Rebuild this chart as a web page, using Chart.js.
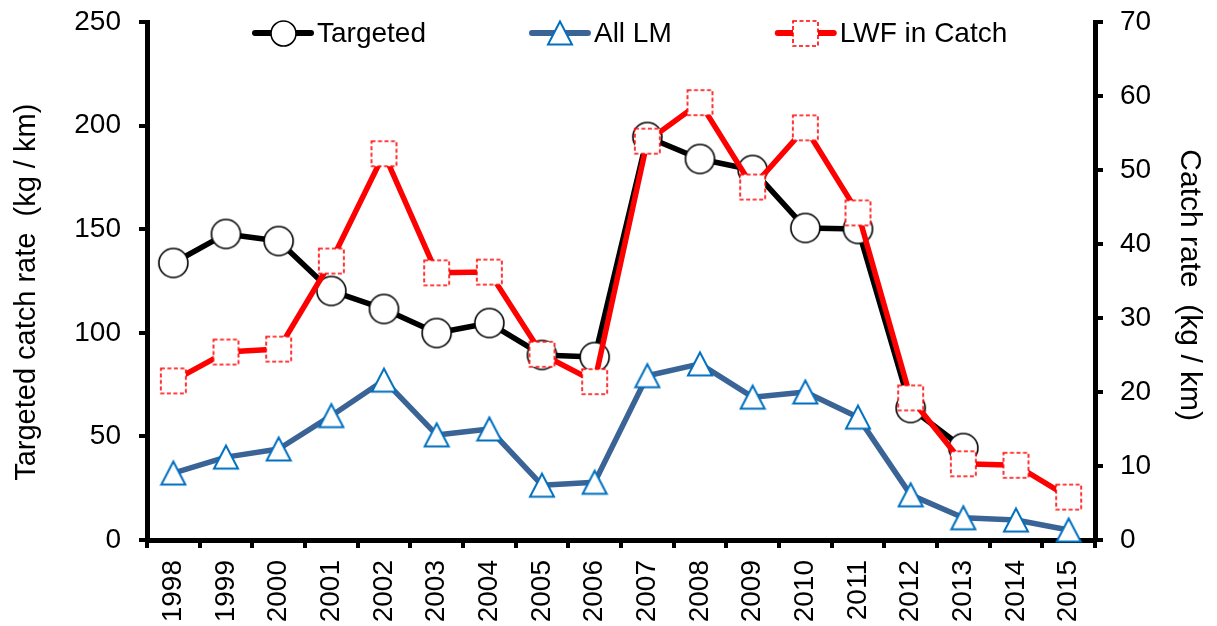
<!DOCTYPE html>
<html>
<head>
<meta charset="utf-8">
<script src="https://cdn.jsdelivr.net/npm/chart.js@4/dist/chart.umd.min.js"></script>
<style>
  html, body { margin: 0; padding: 0; background: #fff; }
</style>
</head>
<body>
<canvas id="grafico" width="1217" height="626"></canvas>
<script>
const years = ['1998', '1999', '2000', '2001', '2002', '2003', '2004', '2005', '2006',
               '2007', '2008', '2009', '2010', '2011', '2012', '2013', '2014', '2015'];

// left axis (kg / km)
const targeted = [133.7, 147.7, 144.3, 120.2, 111.5, 99.9, 104.7, 89.3, 88.3,
                  194.5, 183.9, 178.6, 150.6, 150.1, 63.7, 44.4, null, null];

// right axis (kg / km)
const allLM = [9.05, 11.2, 12.3, 16.8, 21.6, 14.2, 15.0, 7.4, 7.8,
               22.2, 23.8, 19.3, 20.0, 16.6, 6.1, 3.0, 2.7, 1.35];
const lwfInCatch = [21.5, 25.4, 25.8, 37.7, 52.2, 36.1, 36.2, 25.1, 21.4,
                    53.9, 59.1, 47.7, 55.7, 44.2, 19.2, 10.3, 10.1, 5.8];

const leftTicks = [0, 50, 100, 150, 200, 250];
const rightTicks = [0, 10, 20, 30, 40, 50, 60, 70];

const FONT = 'Liberation Sans';
Chart.defaults.font.family = FONT;
Chart.defaults.color = '#000';

// marcadores dibujados en canvas pequeños
function marcadorCirculo(r) {
    const s = Math.ceil(r * 2 + 4);
    const c = document.createElement('canvas');
    c.width = s; c.height = s;
    const g = c.getContext('2d');
    g.beginPath();
    g.arc(s / 2, s / 2, r, 0, Math.PI * 2);
    g.fillStyle = '#fff';
    g.fill();
    g.lineWidth = 1.6;
    g.strokeStyle = '#000';
    g.stroke();
    return c;
}

function marcadorTriangulo(w, h) {
    const s = Math.ceil(Math.max(w, h) + 4);
    const c = document.createElement('canvas');
    c.width = s; c.height = s;
    const g = c.getContext('2d');
    const cx = s / 2, cy = s / 2;
    g.beginPath();
    g.moveTo(cx, cy - h / 2);
    g.lineTo(cx + w / 2, cy + h / 2);
    g.lineTo(cx - w / 2, cy + h / 2);
    g.closePath();
    g.fillStyle = '#fff';
    g.fill();
    g.lineWidth = 2;
    g.lineJoin = 'miter';
    g.strokeStyle = '#0070C0';
    g.stroke();
    return c;
}

function marcadorCuadrado(lado) {
    const s = Math.ceil(lado + 4);
    const c = document.createElement('canvas');
    c.width = s; c.height = s;
    const g = c.getContext('2d');
    const o = (s - lado) / 2;
    g.fillStyle = '#fff';
    g.fillRect(o, o, lado, lado);
    g.setLineDash([4, 2.5]);
    g.lineWidth = 1.6;
    g.strokeStyle = '#FF0000';
    g.strokeRect(o, o, lado, lado);
    return c;
}

const mCirculo = marcadorCirculo(14.5);
const mTriangulo = marcadorTriangulo(24, 23);
const mCuadrado = marcadorCuadrado(25);
const mCirculoLeyenda = marcadorCirculo(12.5);

// leyenda: línea + marcador, dentro del área del gráfico
const leyendaLinea = {
    id: 'leyendaLinea',
    afterDraw(chart) {
        const ctx = chart.ctx;
        const area = chart.chartArea;
        ctx.save();
        ctx.font = '28px "' + FONT + '"';
        ctx.textBaseline = 'middle';
        ctx.textAlign = 'left';
        const y = area.top + 11;
        let x = area.left + 108;
        chart.data.datasets.forEach(ds => {
            ctx.beginPath();
            ctx.moveTo(x, y);
            ctx.lineTo(x + 56, y);
            ctx.lineWidth = 6;
            ctx.lineCap = 'round';
            ctx.strokeStyle = ds.borderColor;
            ctx.stroke();
            const m = ds.legendMarker;
            ctx.drawImage(m, Math.round(x + 28 - m.width / 2), Math.round(y - m.height / 2));
            ctx.fillStyle = '#000';
            ctx.fillText(ds.label, x + 62, y + 1);
            x += 62 + ctx.measureText(ds.label).width + 106;
        });
        ctx.restore();
    }
};

const ejeGrid = {
    drawOnChartArea: false,
    drawTicks: true,
    tickLength: 8,
    lineWidth: 4,
    color: '#000'
};
const ejeBorde = { display: true, width: 5, color: '#000' };
const fuenteTicks = { size: 28 };
const fuenteTitulo = { size: 29 };

// los ejes verticales no deben empujar el área del gráfico hacia abajo
function sinRelleno(s) {
    s.paddingTop = 0;
    s.paddingBottom = 0;
}

new Chart(document.getElementById('grafico'), {
    type: 'line',
    data: {
        labels: years,
        datasets: [
            {
                label: 'Targeted',
                data: targeted,
                yAxisID: 'y',
                borderColor: '#000000',
                borderWidth: 5.5,
                pointStyle: mCirculo,
                legendMarker: mCirculoLeyenda,
                pointRadius: 14,
                order: 1
            },
            {
                label: 'All LM',
                data: allLM,
                yAxisID: 'y1',
                borderColor: '#3A6496',
                borderWidth: 5.5,
                pointStyle: mTriangulo,
                legendMarker: mTriangulo,
                pointRadius: 12,
                order: 2
            },
            {
                label: 'LWF in Catch',
                data: lwfInCatch,
                yAxisID: 'y1',
                borderColor: '#FF0000',
                borderWidth: 5.5,
                pointStyle: mCuadrado,
                legendMarker: mCuadrado,
                pointRadius: 13,
                order: 0
            }
        ]
    },
    options: {
        responsive: false,
        animation: false,
        devicePixelRatio: 1,
        layout: { padding: { top: 22, left: 0, right: 0, bottom: 0 } },
        elements: {
            line: { tension: 0, borderJoinStyle: 'round', borderCapStyle: 'round' }
        },
        datasets: { line: { clip: false, spanGaps: false } },
        plugins: {
            legend: { display: false },
            tooltip: { enabled: false }
        },
        scales: {
            x: {
                type: 'category',
                offset: true,
                grid: Object.assign({ offset: true }, ejeGrid),
                border: ejeBorde,
                ticks: {
                    autoSkip: false,
                    minRotation: 90,
                    maxRotation: 90,
                    padding: 12,
                    font: fuenteTicks,
                    color: '#000'
                },
                afterFit: s => { s.height = 86; s.paddingLeft = 0; s.paddingRight = 0; }
            },
            y: {
                position: 'left',
                min: 0,
                max: 250,
                afterBuildTicks: s => { s.ticks = leftTicks.map(v => ({ value: v })); },
                grid: ejeGrid,
                border: ejeBorde,
                ticks: { padding: 18, font: fuenteTicks, color: '#000' },
                title: {
                    display: true,
                    // espacios finales para bajar un poco el título
                    text: 'Targeted catch rate  (kg / km)\u2002 ',
                    font: fuenteTitulo,
                    color: '#000',
                    padding: { top: 10, bottom: 0 }
                },
                afterFit: s => { s.width = 147; sinRelleno(s); }
            },
            y1: {
                position: 'right',
                min: 0,
                max: 70,
                afterBuildTicks: s => { s.ticks = rightTicks.map(v => ({ value: v })); },
                grid: ejeGrid,
                border: ejeBorde,
                ticks: { padding: 17, font: fuenteTicks, color: '#000' },
                title: {
                    display: true,
                    text: ' Catch rate  (kg / km)',
                    font: { size: 30 },
                    color: '#000',
                    padding: { top: 10, bottom: 0 }
                },
                afterFit: s => { s.width = 122; sinRelleno(s); }
            }
        }
    },
    plugins: [leyendaLinea]
});
</script>
</body>
</html>
